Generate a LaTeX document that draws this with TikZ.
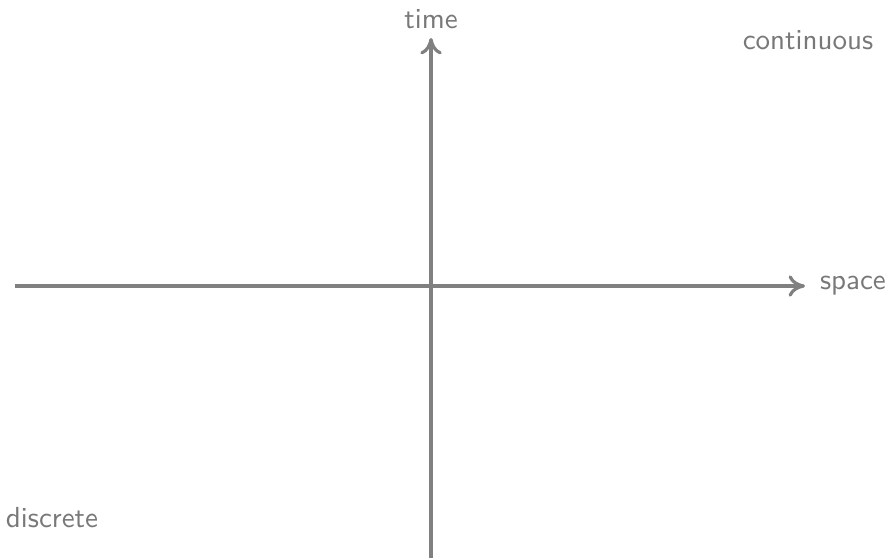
\documentclass[tikz,border=0pt]{standalone}
\usepackage{tikz}
\usetikzlibrary{
  arrows.meta,
  positioning
}
\definecolor{axiscolor}{RGB}{128, 128, 128}
\definecolor{labelcolor}{RGB}{120, 120, 120}
\tikzset{
axislabel/.style={
  font=\sffamily,
  text=labelcolor,
  inner sep=2pt
},
axisline/.style={
  -{To[length=2mm,width=2.6mm]},
  line width=1.1pt,
  draw=axiscolor
}
}
\begin{document}
\begin{tikzpicture}[x=0.345pt,y=-0.345pt]
  \useasboundingbox (0,0) rectangle (890,558);
  % axes
  \coordinate (xstart) at (15,286);
  \coordinate (xend) at (805,286);
  \coordinate (ystart) at (431,558);
  \coordinate (yend) at (431,38);
  \draw[axisline] (xstart) -- (xend);
  \draw[axisline] (ystart) -- (yend);
  % labels
  \node[axislabel, above=1pt of yend] (time) {time};
  \node[axislabel, right=3pt of xend] (space) {space};
  \node[axislabel] (continuous) at (808,40) {continuous};
  \node[axislabel] (discrete) at (52,518) {discrete};
\end{tikzpicture}
\end{document}
